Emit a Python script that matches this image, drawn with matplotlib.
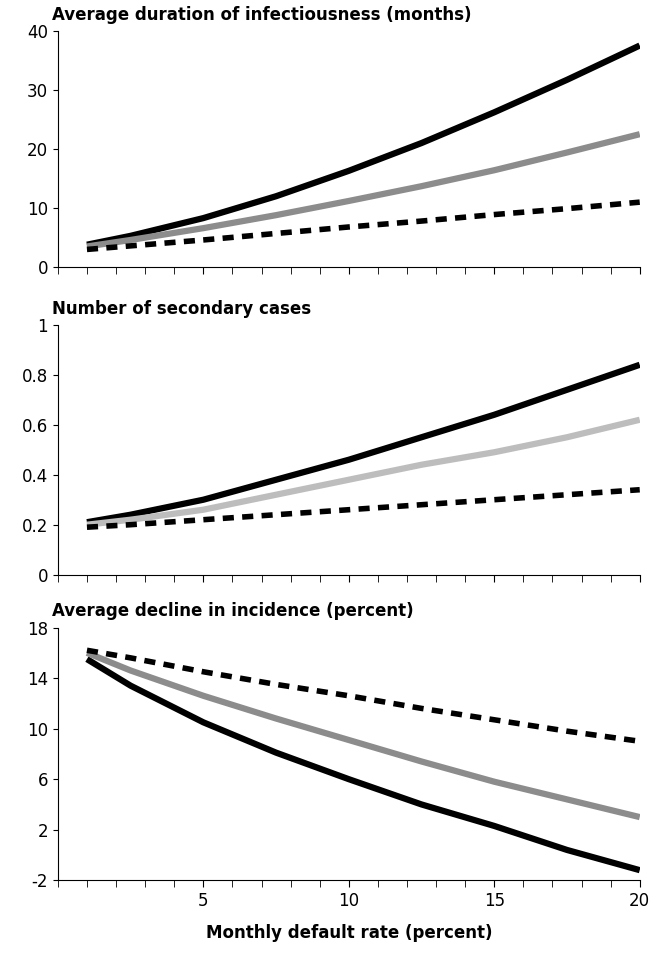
import matplotlib
matplotlib.use('Agg')
import matplotlib.pyplot as plt
import numpy as np

x = [1, 2.5, 5, 7.5, 10, 12.5, 15, 17.5, 20]

# duration of infectiousness (months)
dur_black = [3.8, 5.3, 8.3, 12.0, 16.3, 21.0, 26.2, 31.7, 37.5]
dur_grey = [3.5, 4.6, 6.6, 8.8, 11.2, 13.7, 16.4, 19.4, 22.5]
dur_dash = [3.0, 3.6, 4.6, 5.7, 6.8, 7.8, 8.9, 9.9, 11.0]

# number of secondary cases
sec_black = [0.21, 0.24, 0.30, 0.38, 0.46, 0.55, 0.64, 0.74, 0.84]
sec_grey = [0.20, 0.22, 0.26, 0.32, 0.38, 0.44, 0.49, 0.55, 0.62]
sec_dash = [0.19, 0.20, 0.22, 0.24, 0.26, 0.28, 0.30, 0.32, 0.34]

# decline in incidence (percent)
dec_black = [15.5, 13.4, 10.5, 8.1, 6.0, 4.0, 2.3, 0.4, -1.2]
dec_grey = [16.0, 14.6, 12.6, 10.8, 9.1, 7.4, 5.8, 4.4, 3.0]
dec_dash = [16.2, 15.6, 14.5, 13.5, 12.6, 11.6, 10.7, 9.8, 9.0]

panels = [
    ('Average duration of infectiousness (months)', dur_black, dur_grey, dur_dash,
     '#8c8c8c', (0, 40), [0, 10, 20, 30, 40], [0.087, 0.722, 0.875, 0.246], False),
    ('Number of secondary cases', sec_black, sec_grey, sec_dash,
     '#bdbdbd', (0, 1), [0, 0.2, 0.4, 0.6, 0.8, 1], [0.087, 0.402, 0.875, 0.260], False),
    ('Average decline in incidence (percent)', dec_black, dec_grey, dec_dash,
     '#8c8c8c', (-2, 18), [-2, 2, 6, 10, 14, 18], [0.087, 0.084, 0.875, 0.263], True),
]

fig = plt.figure(figsize=(6.65, 9.61), dpi=100)
for title, b, g, d, gcol, ylim, yt, pos, last in panels:
    ax = fig.add_axes(pos)
    ax.plot(x, b, color='black', lw=4.5, solid_capstyle='butt')
    ax.plot(x, g, color=gcol, lw=4.5, solid_capstyle='butt')
    ax.plot(x, d, color='black', lw=4, linestyle=(0, (2, 1.5)))
    ax.set_xlim(0, 20)
    ax.set_ylim(*ylim)
    ax.set_yticks(yt)
    ax.set_yticklabels([('%g' % v) for v in yt], fontsize=12)
    ax.set_xticks(np.arange(0, 21, 1), minor=True)
    ax.set_xticks([5, 10, 15, 20])
    ax.tick_params(axis='x', which='both', direction='out', length=5)
    if last:
        ax.set_xticklabels(['5', '10', '15', '20'], fontsize=12)
        ax.set_xlabel('Monthly default rate (percent)', fontsize=12, fontweight='bold', labelpad=10)
    else:
        ax.set_xticklabels([])
    for s in ['top', 'right']:
        ax.spines[s].set_visible(False)
    ax.set_title(title, loc='left', fontsize=12, fontweight='bold', x=-0.01, pad=8)

fig.savefig('out.png', dpi=100)
